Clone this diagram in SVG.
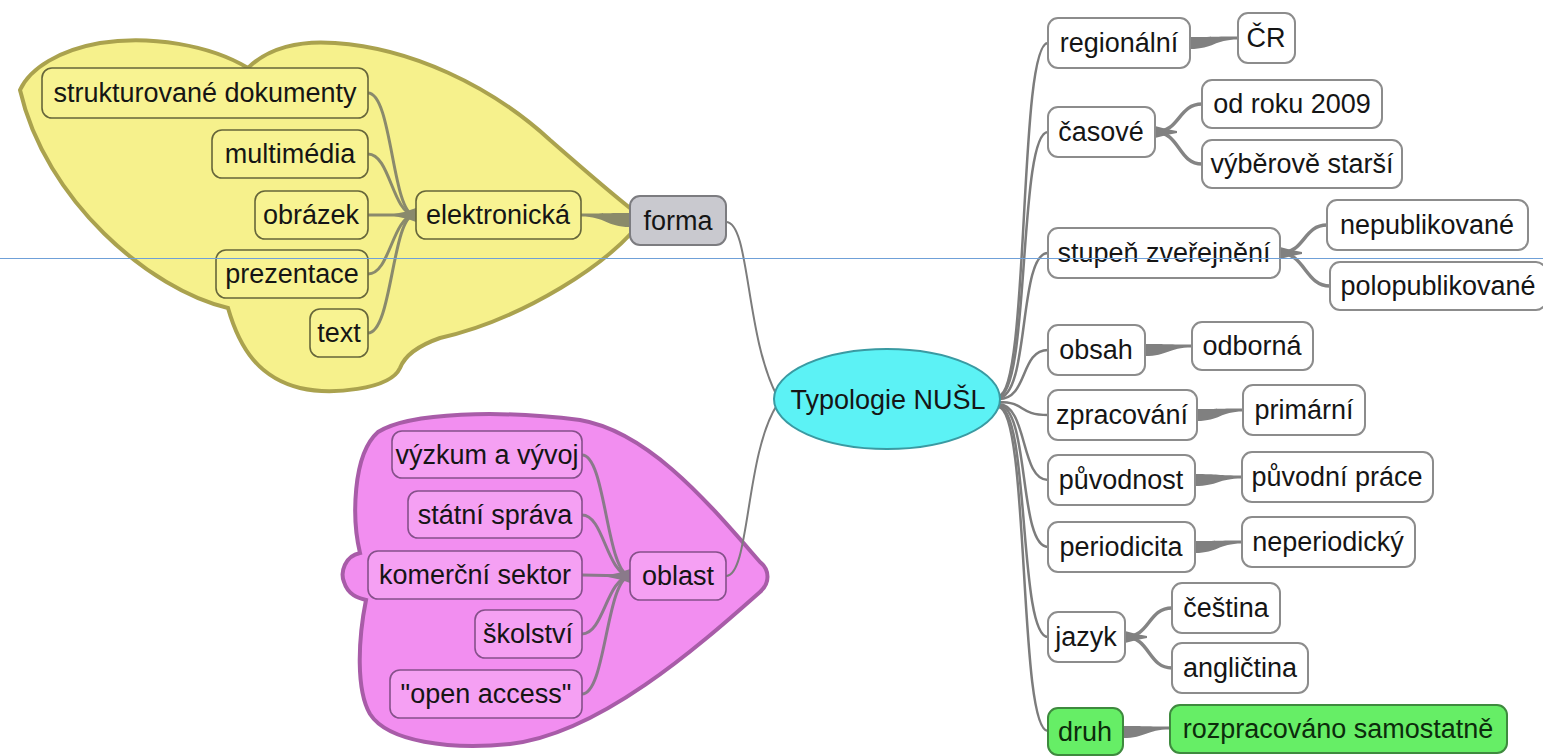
<svg xmlns="http://www.w3.org/2000/svg" width="1543" height="756" viewBox="0 0 1543 756">
<style>
text{font-family:"Liberation Sans",Arial,sans-serif;font-size:27px;fill:#151515;text-anchor:middle}
.w rect{fill:#ffffff;stroke:#8c8c8c;stroke-width:2}
.y rect{fill:#f8f392;stroke:#66663a;stroke-width:1.6}
.p rect{fill:#f5a0f3;stroke:#85508a;stroke-width:1.6}
.g rect{fill:#66ee66;stroke:#3e8a3e;stroke-width:2}
.g text{fill:#0c2c0c}
.f rect{fill:#c9c9cf;stroke:#7c7c80;stroke-width:2}
.ln{fill:none;stroke:#7c7c7c;stroke-width:2.5}
.fk{fill:none;stroke:#848484;stroke-width:3.5}
.wd{fill:#808080}
.yl{fill:none;stroke:#8a8a6c;stroke-width:3}
.pl{fill:none;stroke:#8a7a8a;stroke-width:3}
</style>
<rect x="0" y="0" width="1543" height="756" fill="#ffffff"/>
<g id="blobs">
<path d="M20,90 C30,68 60,50 100,43 C150,35 210,45 248,68 C268,48 300,40 335,43 C410,48 490,85 550,140 C590,175 625,205 643,218 C615,262 520,320 440,338 C420,345 405,355 400,368 C390,390 330,395 300,388 C260,378 240,350 228,308 C150,290 45,200 20,90 Z" fill="#f6f18c" stroke="#aaa24e" stroke-width="4"/>
<path d="M360,553 C345,556 340,572 344,582 C348,595 358,598 366,600 C358,640 356,690 370,714 C388,742 450,750 510,744 C600,734 700,645 760,592 C770,583 770,570 760,562 C710,505 650,432 580,420 C500,410 410,412 378,432 C352,455 352,520 360,553 Z" fill="#f28ef0" stroke="#a85ca8" stroke-width="4"/>
</g>
<g id="connectors">
<path class="ln" d="M998,396 C1030,396 1018,43 1048,43"/>
<path class="ln" d="M998,397 C1030,397 1018,132 1048,132"/>
<path class="ln" d="M998,398 C1030,398 1018,253 1048,253"/>
<path class="ln" d="M999,399 C1028,399 1020,350 1048,350"/>
<path class="ln" d="M999,402 C1026,402 1018,415 1048,415"/>
<path class="ln" d="M998,404 C1028,404 1020,480 1048,480"/>
<path class="ln" d="M998,405 C1030,405 1018,547 1048,547"/>
<path class="ln" d="M998,406 C1030,406 1018,637 1048,637"/>
<path class="ln" d="M998,407 C1030,407 1018,731 1048,731"/>
<path class="wd" d="M1190,37 C1214,37 1214,36.5 1238,36.5 L1238,39.5 C1214,39.5 1214,49 1190,49 Z"/>
<path class="wd" d="M1145,344 C1168,344 1168,344.5 1192,344.5 L1192,347.5 C1168,347.5 1168,356 1145,356 Z"/>
<path class="wd" d="M1197,409 C1220,409 1220,408.5 1243,408.5 L1243,411.5 C1220,411.5 1220,421 1197,421 Z"/>
<path class="wd" d="M1195,474 C1218,474 1218,475.5 1242,475.5 L1242,478.5 C1218,478.5 1218,486 1195,486 Z"/>
<path class="wd" d="M1195,541 C1218,541 1218,540.5 1242,540.5 L1242,543.5 C1218,543.5 1218,553 1195,553 Z"/>
<path class="wd" d="M1123,726 C1146,726 1146,726.5 1170,726.5 L1170,729.5 C1146,729.5 1146,738 1123,738 Z"/>
<path class="fk" d="M1155,132 C1180,132 1178,104 1202,104"/>
<path class="fk" d="M1155,132 C1180,132 1178,164 1202,164"/>
<path class="wd" d="M1155,126 Q1165,129 1177,131 L1177,133 Q1165,135 1155,138 Z"/>
<path class="fk" d="M1280,253 C1305,253 1303,225 1327,225"/>
<path class="fk" d="M1280,253 C1305,253 1305,286 1330,286"/>
<path class="wd" d="M1280,247 Q1290,250 1302,252 L1302,254 Q1290,256 1280,259 Z"/>
<path class="fk" d="M1125,637 C1150,637 1148,608 1172,608"/>
<path class="fk" d="M1125,637 C1150,637 1148,668 1172,668"/>
<path class="wd" d="M1125,631 Q1135,634 1147,636 L1147,638 Q1135,640 1125,643 Z"/>
<path d="M630,213 C606,213 606,213.5 581,213.5 L581,216.5 C606,216.5 606,227 630,227 Z" fill="#8a8a6a"/>
<path class="yl" d="M368,93 C392,93 392,212 414,215"/>
<path class="yl" d="M368,154 C390,154 392,212 414,215"/>
<path class="yl" d="M368,215 L414,215"/>
<path class="yl" d="M368,274 C390,274 392,218 414,215"/>
<path class="yl" d="M368,333 C392,333 392,218 414,215"/>
<path d="M416,208 Q406,212 394,214 L394,216 Q406,218 416,222 Z" fill="#8a8a6c"/>
<path class="pl" d="M582,455 C606,455 606,573 630,576"/>
<path class="pl" d="M582,515 C604,515 606,573 630,576"/>
<path class="pl" d="M582,575 L630,576"/>
<path class="pl" d="M582,634 C604,634 606,579 630,576"/>
<path class="pl" d="M582,694 C606,694 606,579 630,576"/>
<path d="M630,569 Q620,573 608,575 L608,577 Q620,579 630,583 Z" fill="#8a7a8a"/>
<path class="ln" style="stroke-width:2" d="M726,222 C750,222 745,335 777,396"/>
<path class="ln" style="stroke-width:2" d="M726,576 C750,576 745,455 777,405"/>
</g>
<g id="n-root"><ellipse cx="887" cy="399" rx="113" ry="50" fill="#5cf2f5" stroke="#3a9aa2" stroke-width="2"/><text x="888" y="409">Typologie NUŠL</text></g>
<g id="n-forma" class="f"><rect x="630" y="196" width="96" height="49" rx="10"/><text x="678" y="230">forma</text></g>
<g id="n-elektronicka" class="y"><rect x="416" y="191" width="165" height="48" rx="10"/><text x="498" y="224">elektronická</text></g>
<g id="n-strukturovane" class="y"><rect x="42" y="68" width="326" height="50" rx="10"/><text x="205" y="102">strukturované dokumenty</text></g>
<g id="n-multimedia" class="y"><rect x="212" y="130" width="156" height="48" rx="10"/><text x="290" y="163">multimédia</text></g>
<g id="n-obrazek" class="y"><rect x="255" y="191" width="113" height="48" rx="10"/><text x="311" y="224">obrázek</text></g>
<g id="n-prezentace" class="y"><rect x="216" y="250" width="152" height="48" rx="10"/><text x="292" y="283">prezentace</text></g>
<g id="n-text" class="y"><rect x="310" y="309" width="58" height="48" rx="10"/><text x="339" y="342">text</text></g>
<g id="n-oblast" class="p"><rect x="630" y="552" width="96" height="48" rx="10"/><text x="678" y="585">oblast</text></g>
<g id="n-vyzkum" class="p"><rect x="392" y="431" width="190" height="47" rx="10"/><text x="487" y="464">výzkum a vývoj</text></g>
<g id="n-statni" class="p"><rect x="408" y="491" width="174" height="47" rx="10"/><text x="495" y="524">státní správa</text></g>
<g id="n-komercni" class="p"><rect x="368" y="551" width="214" height="48" rx="10"/><text x="475" y="584">komerční sektor</text></g>
<g id="n-skolstvi" class="p"><rect x="475" y="610" width="107" height="48" rx="10"/><text x="528" y="643">školství</text></g>
<g id="n-open" class="p"><rect x="390" y="670" width="192" height="48" rx="10"/><text x="486" y="703">"open access"</text></g>
<g id="n-regionalni" class="w"><rect x="1048" y="18" width="142" height="50" rx="10"/><text x="1119" y="52">regionální</text></g>
<g id="n-cr" class="w"><rect x="1238" y="13" width="57" height="50" rx="10"/><text x="1266" y="47">ČR</text></g>
<g id="n-casove" class="w"><rect x="1048" y="107" width="107" height="50" rx="10"/><text x="1101" y="141">časové</text></g>
<g id="n-odroku" class="w"><rect x="1202" y="80" width="180" height="48" rx="10"/><text x="1292" y="113">od roku 2009</text></g>
<g id="n-vyberove" class="w"><rect x="1202" y="140" width="200" height="48" rx="10"/><text x="1302" y="173">výběrově starší</text></g>
<g id="n-stupen" class="w"><rect x="1048" y="228" width="232" height="50" rx="10"/><text x="1164" y="262">stupeň zveřejnění</text></g>
<g id="n-nepubl" class="w"><rect x="1327" y="200" width="201" height="50" rx="10"/><text x="1427" y="234">nepublikované</text></g>
<g id="n-polopubl" class="w"><rect x="1330" y="262" width="216" height="48" rx="10"/><text x="1438" y="295">polopublikované</text></g>
<g id="n-obsah" class="w"><rect x="1048" y="325" width="97" height="50" rx="10"/><text x="1096" y="359">obsah</text></g>
<g id="n-odborna" class="w"><rect x="1192" y="322" width="121" height="48" rx="10"/><text x="1252" y="355">odborná</text></g>
<g id="n-zpracovani" class="w"><rect x="1048" y="390" width="149" height="50" rx="10"/><text x="1122" y="424">zpracování</text></g>
<g id="n-primarni" class="w"><rect x="1243" y="385" width="122" height="50" rx="10"/><text x="1304" y="419">primární</text></g>
<g id="n-puvodnost" class="w"><rect x="1048" y="455" width="147" height="50" rx="10"/><text x="1121" y="489">původnost</text></g>
<g id="n-puvodniprace" class="w"><rect x="1242" y="452" width="191" height="50" rx="10"/><text x="1337" y="486">původní práce</text></g>
<g id="n-periodicita" class="w"><rect x="1048" y="522" width="147" height="50" rx="10"/><text x="1121" y="556">periodicita</text></g>
<g id="n-neperiodicky" class="w"><rect x="1242" y="517" width="173" height="50" rx="10"/><text x="1328" y="551">neperiodický</text></g>
<g id="n-jazyk" class="w"><rect x="1048" y="612" width="77" height="50" rx="10"/><text x="1086" y="646">jazyk</text></g>
<g id="n-cestina" class="w"><rect x="1172" y="583" width="108" height="50" rx="10"/><text x="1226" y="617">čeština</text></g>
<g id="n-anglictina" class="w"><rect x="1172" y="643" width="136" height="50" rx="10"/><text x="1240" y="677">angličtina</text></g>
<g id="n-druh" class="g"><rect x="1048" y="708" width="75" height="47" rx="10"/><text x="1085" y="741">druh</text></g>
<g id="n-rozpracovano" class="g"><rect x="1170" y="705" width="337" height="48" rx="10"/><text x="1338" y="738">rozpracováno samostatně</text></g>
<line x1="0" y1="258.5" x2="1543" y2="258.5" stroke="#6fa0d8" stroke-width="1"/>
</svg>
